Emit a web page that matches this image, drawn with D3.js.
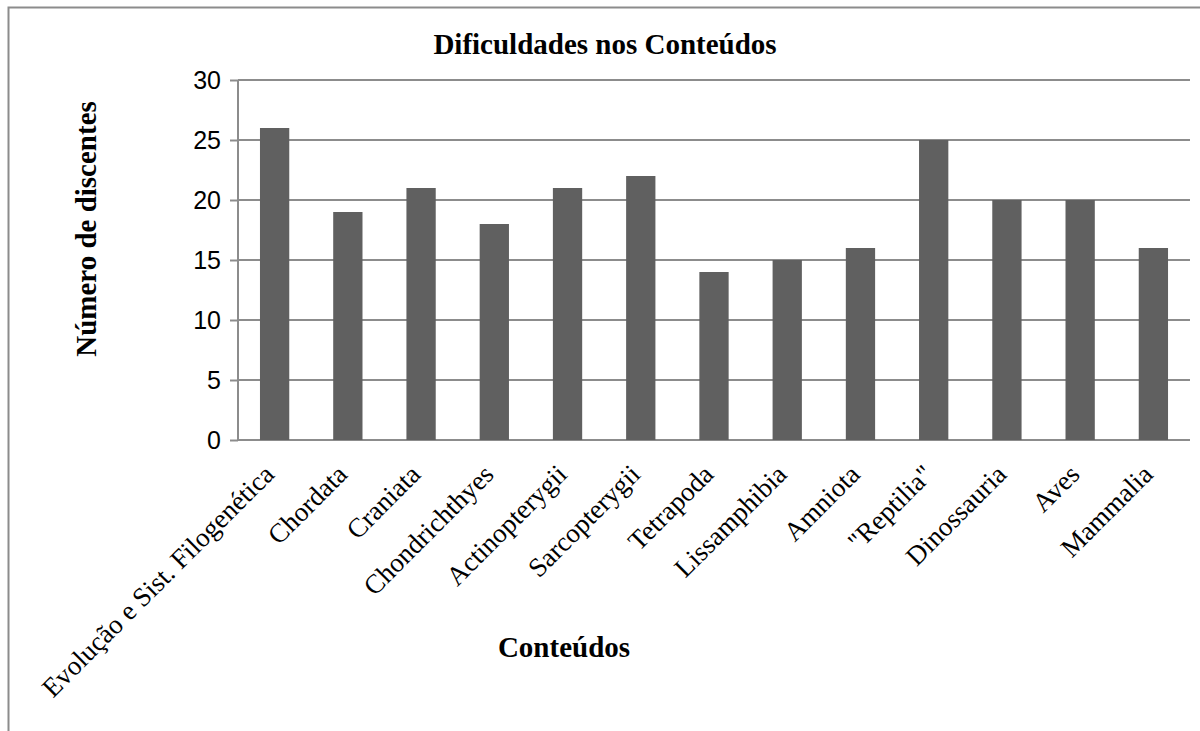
<!DOCTYPE html>
<html>
<head>
<meta charset="utf-8">
<script src="https://cdn.jsdelivr.net/npm/d3@7"></script>
<style>
  body { margin: 0; background: #fff; }
  .tick text { font-family: "Liberation Sans", Arial, sans-serif; }
</style>
</head>
<body>
<div id="graphic-area"></div>
<script>
const title = "Dificuldades nos Conteúdos";
const xTitle = "Conteúdos";
const yTitle = "Número de discentes";
const categories = ["Evolução e Sist. Filogenética", "Chordata", "Craniata", "Chondrichthyes",
  "Actinopterygii", "Sarcopterygii", "Tetrapoda", "Lissamphibia", "Amniota",
  "\"Reptilia\"", "Dinossauria", "Aves", "Mammalia"];
const values = [26, 19, 21, 18, 21, 22, 14, 15, 16, 25, 20, 20, 16];
const yTicks = [0, 5, 10, 15, 20, 25, 30];

const w = 1200;
const h = 731;
const plot = { left: 238, right: 1190, top: 80, bottom: 440 };
const lineColor = "#8c8c8c";
const serif = "'Liberation Serif', 'Times New Roman', serif";

const svg = d3.select("#graphic-area")
              .append("svg")
              .attr("width", w)
              .attr("height", h);

// outer frame (cut off on the right and bottom in the original)
svg.append("rect")
   .attr("x", 8.5)
   .attr("y", 7.5)
   .attr("width", w + 20)
   .attr("height", h + 20)
   .attr("fill", "none")
   .attr("stroke", lineColor)
   .attr("stroke-width", 2);

const xScale = d3.scaleBand()
                 .domain(categories)
                 .range([plot.left, plot.right])
                 .paddingInner(0.6)
                 .paddingOuter(0.3);

const yScale = d3.scaleLinear()
                 .domain([0, d3.max(yTicks)])
                 .range([plot.bottom, plot.top]);

// y axis with gridlines
const yAxis = d3.axisLeft(yScale)
                .tickValues(yTicks)
                .tickSize(8)
                .tickPadding(9);

const yG = svg.append("g")
   .attr("transform", "translate(" + plot.left + ",0)")
   .call(yAxis);
yG.select(".domain").remove();
yG.selectAll(".tick line").attr("stroke", lineColor).attr("stroke-width", 2);
yG.selectAll(".tick text").attr("font-size", 25).attr("fill", "#000");

svg.append("g")
   .selectAll("line")
   .data(yTicks)
   .enter()
   .append("line")
   .attr("x1", plot.left)
   .attr("x2", plot.right)
   .attr("y1", (d) => yScale(d))
   .attr("y2", (d) => yScale(d))
   .attr("stroke", lineColor)
   .attr("stroke-width", 2);

svg.append("line")
   .attr("x1", plot.left)
   .attr("x2", plot.left)
   .attr("y1", plot.top)
   .attr("y2", plot.bottom)
   .attr("stroke", lineColor)
   .attr("stroke-width", 2);

// bars
svg.selectAll("rect.bar")
   .data(values)
   .enter()
   .append("rect")
   .attr("class", "bar")
   .attr("x", (d, i) => xScale(categories[i]))
   .attr("y", (d) => yScale(d))
   .attr("width", xScale.bandwidth())
   .attr("height", (d) => plot.bottom - yScale(d))
   .attr("fill", "#606060");

// rotated category labels
svg.append("g")
   .selectAll("text")
   .data(categories)
   .enter()
   .append("text")
   .attr("transform", (d) => "translate(" + (xScale(d) + xScale.bandwidth() / 2 + 1) + "," + (plot.bottom + 36) + ") rotate(-45)")
   .attr("text-anchor", "end")
   .attr("font-family", serif)
   .attr("font-size", 27)
   .attr("fill", "#000")
   .text((d) => d);

svg.append("text")
   .attr("x", 605)
   .attr("y", 54)
   .attr("text-anchor", "middle")
   .attr("font-family", serif)
   .attr("font-weight", "bold")
   .attr("font-size", 29)
   .text(title);

svg.append("text")
   .attr("x", 564)
   .attr("y", 657)
   .attr("text-anchor", "middle")
   .attr("font-family", serif)
   .attr("font-weight", "bold")
   .attr("font-size", 29)
   .text(xTitle);

svg.append("text")
   .attr("transform", "translate(96,229) rotate(-90)")
   .attr("text-anchor", "middle")
   .attr("font-family", serif)
   .attr("font-weight", "bold")
   .attr("font-size", 29)
   .text(yTitle);
</script>
</body>
</html>
